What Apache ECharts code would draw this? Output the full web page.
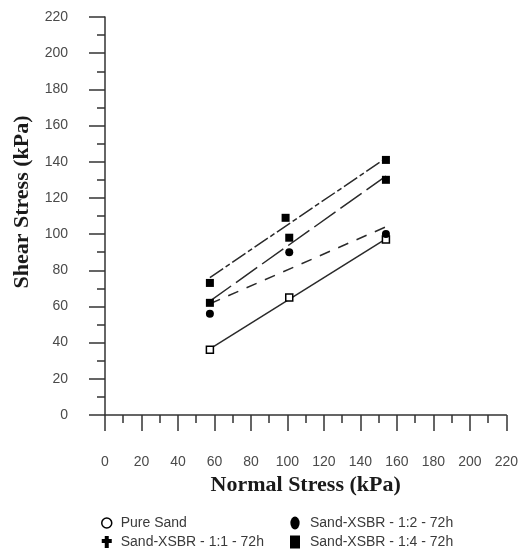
<!DOCTYPE html>
<html>
<head>
<meta charset="utf-8">
<script src="https://cdn.jsdelivr.net/npm/echarts@6/dist/echarts.min.js"></script>
<style>
  html, body { margin: 0; padding: 0; background: #fff; }
  #chart { width: 521px; height: 556px; }
</style>
</head>
<body>
<div id="chart"></div>
<script>
// normal stress of the three tests (kPa)
const normalStress = [57.5, 101, 154];
const normalStress14 = [57.5, 99, 154];

// shear stress (kPa)
const pureSand = [36, 65, 97];
const mix12 = [56, 90, 100];
const mix11 = [62, 98, 130];
const mix14 = [73, 109, 141];

// end points of the fitted lines as drawn
const fitX = [57.5, 154];
const pureFit = [36.5, 97.4];
const mix12Fit = [61.5, 104];
const mix11Fit = [63, 132];
const mix14Fit = [76, 142];

const names = [
  "Pure Sand",
  "Sand-XSBR - 1:2 - 72h",
  "Sand-XSBR - 1:1 - 72h",
  "Sand-XSBR - 1:4 - 72h",
];

const pairs = (xs, ys) => xs.map((x, i) => [x, ys[i]]);

const chart = echarts.init(document.getElementById("chart"));

const axisCommon = {
  type: "value",
  min: 0,
  max: 220,
  interval: 20,
  axisLine: { lineStyle: { color: "#333", width: 1.5 } },
  axisTick: { length: 16, lineStyle: { color: "#333", width: 1.5 } },
  minorTick: { show: true, splitNumber: 2, length: 8, lineStyle: { color: "#333", width: 1.5 } },
  splitLine: { show: false },
  nameLocation: "middle",
};

const titleFont = {
  fontFamily: "Liberation Serif",
  fontWeight: "bold",
  fontSize: 22,
  color: "#1a1a1a",
};

const tickFont = { fontFamily: "Liberation Sans", fontSize: 14, color: "#4a4a4a" };
const legendFont = { fontFamily: "Liberation Sans", fontSize: 14, color: "#3a3a3a" };

const fitLine = (name, ys, type) => ({
  name: name,
  type: "line",
  data: pairs(fitX, ys),
  symbol: "none",
  lineStyle: { color: "#2a2a2a", width: 1.5, type: type },
  z: 2,
  silent: true,
});

const option = {
  animation: false,
  grid: { left: 105, right: 14, top: 17, bottom: 141 },
  xAxis: {
    ...axisCommon,
    name: "Normal Stress (kPa)",
    nameGap: 57,
    nameTextStyle: titleFont,
    axisLabel: { margin: 40, ...tickFont },
  },
  yAxis: {
    ...axisCommon,
    name: "Shear Stress (kPa)",
    nameGap: 72,
    nameTextStyle: { ...titleFont, padding: [0, 0, 0, 28] },
    axisLabel: { margin: 37, ...tickFont },
  },
  legend: [
    {
      left: 96,
      top: 511,
      orient: "vertical",
      itemGap: 5,
      itemWidth: 10,
      itemHeight: 12,
      textStyle: { ...legendFont, padding: [0, 0, 0, 4] },
      data: [
        { name: names[0], icon: "circle", itemStyle: { color: "#fff", borderColor: "#000", borderWidth: 1.5 } },
        { name: names[2], icon: "path://M3,0 L7,0 L7,3 L10,3 L10,7 L7,7 L7,12 L3,12 L3,7 L0,7 L0,3 L3,3 Z" },
      ],
    },
    {
      left: 285,
      top: 511,
      orient: "vertical",
      itemGap: 5,
      itemWidth: 10,
      itemHeight: 13,
      textStyle: { ...legendFont, padding: [0, 0, 0, 5] },
      data: [
        { name: names[1], icon: "path://M5,0 A5,7 0 1,1 5,14 A5,7 0 1,1 5,0 Z" },
        { name: names[3], icon: "rect" },
      ],
    },
  ],
  series: [
    fitLine("fit-pure", pureFit, "solid"),
    fitLine("fit-12", mix12Fit, [11, 9]),
    fitLine("fit-11", mix11Fit, [26, 6]),
    fitLine("fit-14", mix14Fit, [16, 3, 5, 3]),
    {
      name: names[0],
      type: "scatter",
      data: pairs(normalStress, pureSand),
      symbol: "rect",
      symbolSize: 7,
      itemStyle: { color: "#fff", borderColor: "#000", borderWidth: 1.5, opacity: 1 },
      z: 3,
    },
    {
      name: names[1],
      type: "scatter",
      data: pairs(normalStress, mix12),
      symbol: "circle",
      symbolSize: 8,
      itemStyle: { color: "#000", opacity: 1 },
      z: 3,
    },
    {
      name: names[2],
      type: "scatter",
      data: pairs(normalStress, mix11),
      symbol: "rect",
      symbolSize: 8,
      itemStyle: { color: "#000", opacity: 1 },
      z: 3,
    },
    {
      name: names[3],
      type: "scatter",
      data: pairs(normalStress14, mix14),
      symbol: "rect",
      symbolSize: 8,
      itemStyle: { color: "#000", opacity: 1 },
      z: 3,
    },
  ],
};

chart.setOption(option);
</script>
</body>
</html>
